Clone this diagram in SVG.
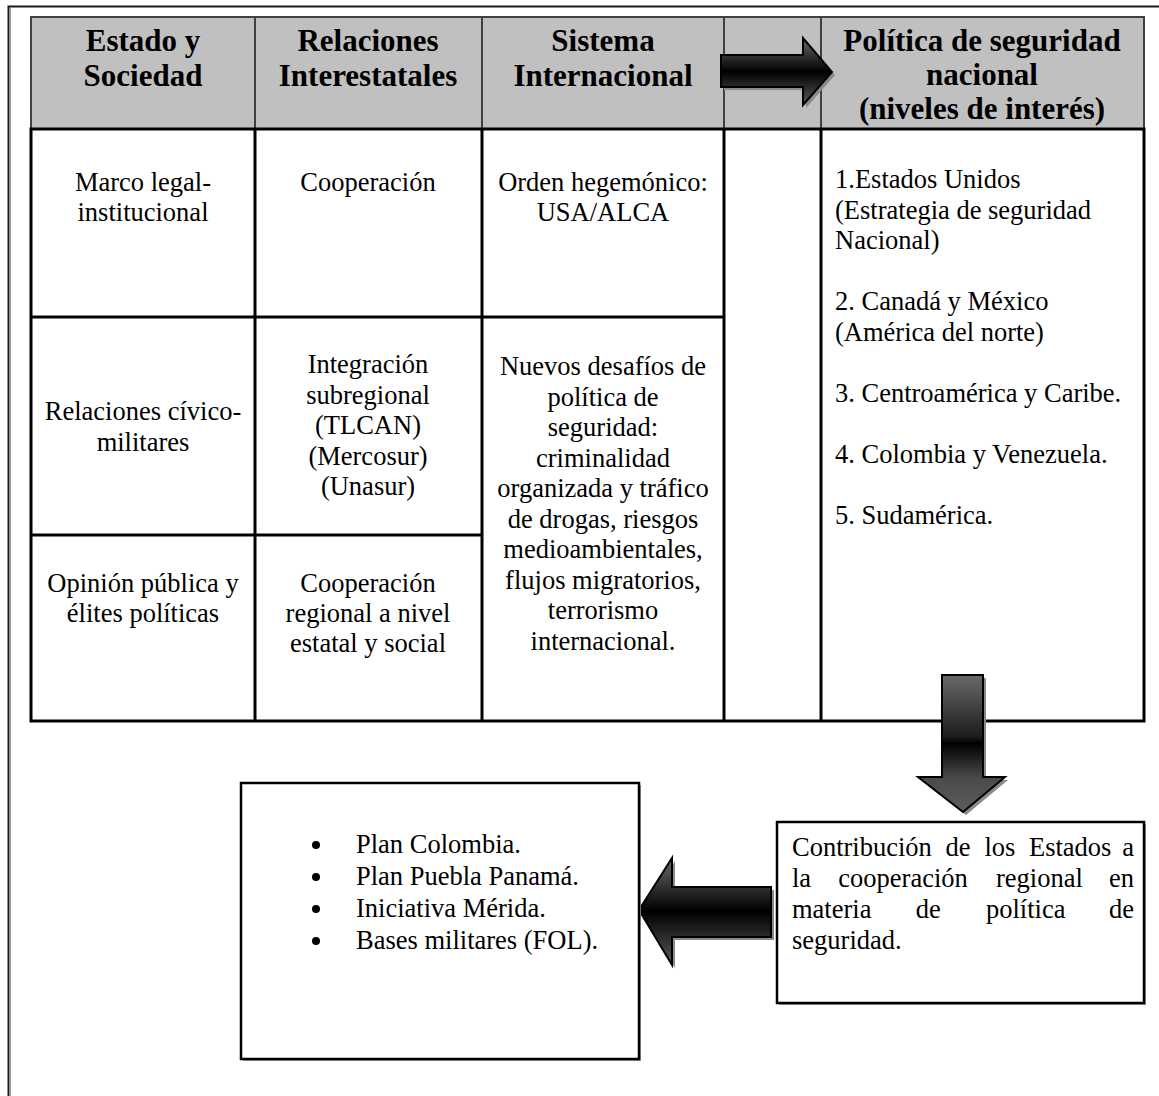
<svg xmlns="http://www.w3.org/2000/svg" width="1159" height="1096" viewBox="0 0 1159 1096">
<style>
.h{font-family:"Liberation Serif","Times New Roman",serif;font-weight:bold;font-size:31px;fill:#000;text-anchor:middle}
.t{font-family:"Liberation Serif","Times New Roman",serif;font-size:26.5px;fill:#000}
.c{text-anchor:middle}
.e{text-anchor:end}
.grid{stroke:#000;stroke-width:3;fill:none}
.hgrid{stroke:#404040;stroke-width:2;fill:none}
.hdr{fill:#c0c0c0;stroke:#404040;stroke-width:2}
.box{fill:#fff;stroke:#000;stroke-width:2.5}
.shadow{fill:#8a8a8a}
.arrow{stroke:#000;stroke-width:2;stroke-linejoin:miter}
</style>
<defs>
<linearGradient id="gH" x1="0" y1="0" x2="0" y2="1">
<stop offset="0" stop-color="#6a6a6a"/>
<stop offset="0.5" stop-color="#000"/>
<stop offset="1" stop-color="#5a5a5a"/>
</linearGradient>
<linearGradient id="gV" gradientUnits="userSpaceOnUse" x1="0" y1="675" x2="0" y2="812">
<stop offset="0" stop-color="#6a6a6a"/>
<stop offset="0.45" stop-color="#1c1c1c"/>
<stop offset="0.5" stop-color="#000"/>
<stop offset="0.75" stop-color="#4a4a4a"/>
<stop offset="1" stop-color="#5c5c5c"/>
</linearGradient>
</defs>

<g id="frame">
<polyline points="8.5,1096 8.5,6.5 1159,6.5" fill="none" stroke="#1a1a1a" stroke-width="2"/>
<line x1="10.5" y1="8" x2="10.5" y2="1096" stroke="#999" stroke-width="1"/>
</g>

<g id="table">
<rect class="hdr" x="31" y="17" width="1113" height="112"/>
<line class="hgrid" x1="255" y1="17" x2="255" y2="129"/>
<line class="hgrid" x1="482" y1="17" x2="482" y2="129"/>
<line class="hgrid" x1="724" y1="17" x2="724" y2="129"/>
<line class="hgrid" x1="821" y1="17" x2="821" y2="129"/>
<rect class="grid" x="31" y="129" width="1113" height="592"/>
<line class="grid" x1="255" y1="129" x2="255" y2="721"/>
<line class="grid" x1="482" y1="129" x2="482" y2="721"/>
<line class="grid" x1="724" y1="129" x2="724" y2="721"/>
<line class="grid" x1="821" y1="129" x2="821" y2="721"/>
<line class="grid" x1="31" y1="317" x2="724" y2="317"/>
<line class="grid" x1="31" y1="535" x2="482" y2="535"/>
</g>

<g id="header-estado"><text class="h" x="143" y="51">Estado y</text><text class="h" x="143" y="86">Sociedad</text></g>
<g id="header-relaciones"><text class="h" x="368" y="51">Relaciones</text><text class="h" x="368" y="86">Interestatales</text></g>
<g id="header-sistema"><text class="h" x="603" y="51">Sistema</text><text class="h" x="603" y="86">Internacional</text></g>
<g id="header-politica"><text class="h" x="982" y="51">Política de seguridad</text><text class="h" x="982" y="85">nacional</text><text class="h" x="982" y="119">(niveles de interés)</text></g>

<g id="cell-marco"><text class="t c" x="143" y="191">Marco legal-</text><text class="t c" x="143" y="221">institucional</text></g>
<g id="cell-civico"><text class="t c" x="143" y="420">Relaciones cívico-</text><text class="t c" x="143" y="451">militares</text></g>
<g id="cell-opinion"><text class="t c" x="143" y="592">Opinión pública y</text><text class="t c" x="143" y="622">élites políticas</text></g>

<g id="cell-cooperacion"><text class="t c" x="368" y="191">Cooperación</text></g>
<g id="cell-integracion"><text class="t c" x="368" y="373">Integración</text><text class="t c" x="368" y="403.5">subregional</text><text class="t c" x="368" y="434">(TLCAN)</text><text class="t c" x="368" y="464.5">(Mercosur)</text><text class="t c" x="368" y="495">(Unasur)</text></g>
<g id="cell-coop-regional"><text class="t c" x="368" y="592">Cooperación</text><text class="t c" x="368" y="622">regional a nivel</text><text class="t c" x="368" y="652">estatal y social</text></g>

<g id="cell-orden"><text class="t c" x="603" y="191">Orden hegemónico:</text><text class="t c" x="603" y="221">USA/ALCA</text></g>
<g id="cell-desafios">
<text class="t c" x="603" y="375">Nuevos desafíos de</text>
<text class="t c" x="603" y="405.5">política de</text>
<text class="t c" x="603" y="436">seguridad:</text>
<text class="t c" x="603" y="466.5">criminalidad</text>
<text class="t c" x="603" y="497">organizada y tráfico</text>
<text class="t c" x="603" y="527.5">de drogas, riesgos</text>
<text class="t c" x="603" y="558">medioambientales,</text>
<text class="t c" x="603" y="588.5">flujos migratorios,</text>
<text class="t c" x="603" y="619">terrorismo</text>
<text class="t c" x="603" y="649.5">internacional.</text>
</g>

<g id="cell-niveles">
<text class="t" x="835" y="188">1.Estados Unidos</text>
<text class="t" x="835" y="218.5">(Estrategia de seguridad</text>
<text class="t" x="835" y="249">Nacional)</text>
<text class="t" x="835" y="310">2. Canadá y México</text>
<text class="t" x="835" y="340.5">(América del norte)</text>
<text class="t" x="835" y="401.5">3. Centroamérica y Caribe.</text>
<text class="t" x="835" y="462.5">4. Colombia y Venezuela.</text>
<text class="t" x="835" y="523.5">5. Sudamérica.</text>
</g>

<g id="connectors">
<polygon class="shadow" points="724,58 806,58 806,41 835,75 806,108 806,90 724,90"/>
<polygon class="arrow" fill="url(#gH)" points="721,55 803,55 803,38 832,72 803,105 803,87 721,87"/>
<polygon class="shadow" points="945,678 986,678 986,780 1008,780 966,815 921,780 945,780"/>
<polygon class="arrow" fill="url(#gV)" points="942,675 983,675 983,777 1005,777 963,812 918,777 942,777"/>
<polygon class="shadow" points="642,913 675,861 675,890 774,890 774,940 675,940 675,968"/>
<polygon class="arrow" fill="url(#gH)" points="639,910 672,858 672,887 771,887 771,937 672,937 672,965"/>
</g>

<g id="box-planes">
<rect x="243" y="785" width="398" height="276" fill="#9a9a9a"/>
<rect class="box" x="241" y="783" width="398" height="276"/>
<circle cx="316" cy="845" r="4"/>
<circle cx="316" cy="877" r="4"/>
<circle cx="316" cy="909" r="4"/>
<circle cx="316" cy="941" r="4"/>
<text class="t" x="356" y="853">Plan Colombia.</text>
<text class="t" x="356" y="885">Plan Puebla Panamá.</text>
<text class="t" x="356" y="917">Iniciativa Mérida.</text>
<text class="t" x="356" y="949">Bases militares (FOL).</text>
</g>

<g id="box-contribucion">
<rect x="779" y="824" width="367" height="181" fill="#9a9a9a"/>
<rect class="box" x="777" y="822" width="367" height="181"/>
<text class="t" x="792" y="856">Contribución</text><text class="t" x="945.6" y="856">de</text><text class="t" x="984.4" y="856">los</text><text class="t" x="1029" y="856">Estados</text><text class="t e" x="1134" y="856">a</text>
<text class="t" x="792" y="887">la</text><text class="t" x="838.3" y="887">cooperación</text><text class="t" x="996" y="887">regional</text><text class="t e" x="1134" y="887">en</text>
<text class="t" x="792" y="918">materia</text><text class="t" x="915.8" y="918">de</text><text class="t" x="986" y="918">política</text><text class="t e" x="1134" y="918">de</text>
<text class="t" x="792" y="949">seguridad.</text>
</g>
</svg>
